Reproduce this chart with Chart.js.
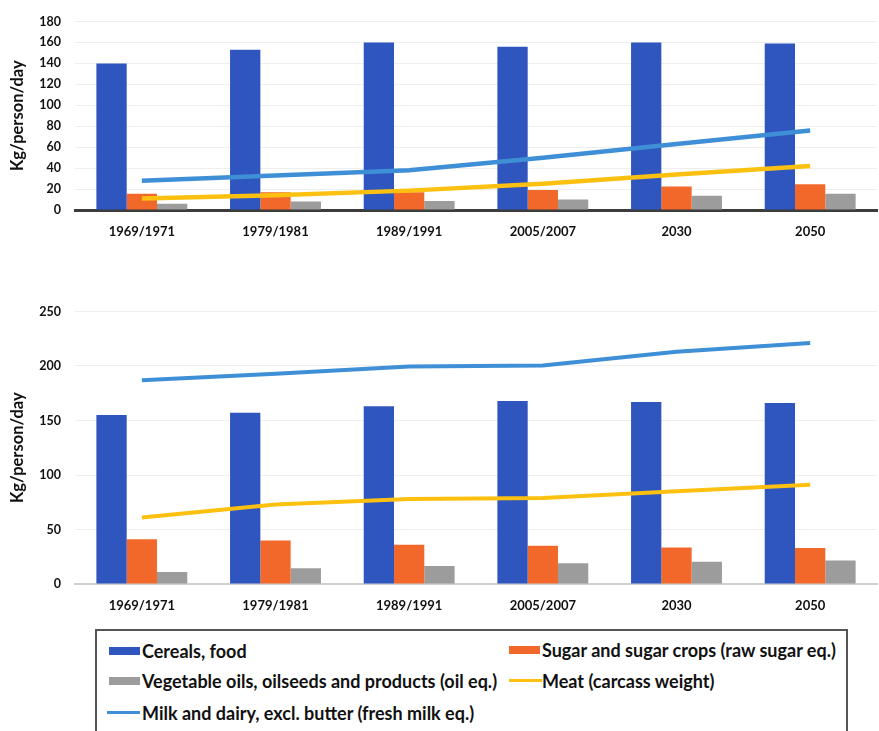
<!DOCTYPE html>
<html>
<head>
<meta charset="utf-8">
<script src="https://cdn.jsdelivr.net/npm/chart.js@4.4.1/dist/chart.umd.min.js"></script>
<style>
  body { margin:0; background:#fff; width:879px; height:731px; overflow:hidden; position:relative; font-family:Lato, "Open Sans", sans-serif; }
  #topBox { position:absolute; left:0; top:0; width:879px; height:240px; }
  #botBox { position:absolute; left:0; top:290px; width:879px; height:324px; }
  #legend { position:absolute; left:95px; top:629px; width:753px; height:110px; border:2px solid #555; border-bottom:none; box-sizing:border-box; }
  .item { position:absolute; font-weight:700; font-size:18px; color:#111; white-space:nowrap; line-height:20px; }
  .sw { position:absolute; }
</style>
</head>
<body>
<div id="topBox"><canvas id="topChart"></canvas></div>
<div id="botBox"><canvas id="botChart"></canvas></div>
<div id="legend"></div>

<script>
// categories (periods)
const categories = ['1969/1971', '1979/1981', '1989/1991', '2005/2007', '2030', '2050'];

// upper panel, kg/person
const topCereals  = [140, 153, 160, 156, 160, 159];
const topSugar    = [15.5, 17, 17, 19, 22.5, 24.5];
const topVegOils  = [6, 8, 8.5, 10, 13.5, 15.5];
const topMeat     = [11, 14, 18.5, 25, 34, 42];
const topMilk     = [28, 33, 38, 50, 63, 76];
const topYMax = 180, topYStep = 20;

// lower panel, kg/person
const botCereals  = [155, 157, 163, 168, 167, 166];
const botSugar    = [41, 40, 36, 35, 33.5, 33];
const botVegOils  = [11, 14.5, 16.5, 19, 20.5, 21.5];
const botMeat     = [61, 73, 78, 79, 85, 91];
const botMilk     = [187, 193, 199.5, 200.5, 213, 221];
const botYMax = 250, botYStep = 50;

const seriesNames = {
  cereals: 'Cereals, food',
  sugar: 'Sugar and sugar crops (raw sugar eq.)',
  oils: 'Vegetable oils, oilseeds and products (oil eq.)',
  meat: 'Meat (carcass weight)',
  milk: 'Milk and dairy, excl. butter (fresh milk eq.)'
};

const colors = {
  cereals: '#2f55bf',
  sugar: '#f1682a',
  oils: '#9c9c9c',
  meat: '#fcc010',
  milk: '#3f8fd6'
};

function makeChart(id, d, yMax, yStep, axisColor, axisWidth, lineW, padTop) {
  const ctx = document.getElementById(id);
  return new Chart(ctx, {
    type: 'bar',
    data: {
      labels: categories,
      datasets: [
        // lines listed first so they are drawn on top of the bars
        { type:'line', label: seriesNames.milk, data: d.milk, borderColor: colors.milk, borderWidth: lineW, pointRadius: 0, tension: 0 },
        { type:'line', label: seriesNames.meat, data: d.meat, borderColor: colors.meat, borderWidth: lineW, pointRadius: 0, tension: 0 },
        { label: seriesNames.cereals, data: d.cereals, backgroundColor: colors.cereals },
        { label: seriesNames.sugar, data: d.sugar, backgroundColor: colors.sugar },
        { label: seriesNames.oils, data: d.oils, backgroundColor: colors.oils }
      ]
    },
    options: {
      responsive: true,
      maintainAspectRatio: false,
      animation: false,
      datasets: { bar: { barPercentage: 1, categoryPercentage: 0.68 } },
      layout: { padding: { top: padTop, right: 2, left: 0, bottom: 0 } },
      plugins: { legend: { display: false }, tooltip: { enabled: false } },
      scales: {
        x: {
          grid: { display: false },
          border: { color: axisColor, width: axisWidth },
          ticks: { color: '#111', padding: 6, font: { family: 'Lato', weight: 'bold', size: 13 } },
          afterFit: s => { s.height = 30; }
        },
        y: {
          min: 0, max: yMax,
          grid: { color: '#eeeeee', drawTicks: false },
          border: { display: false },
          ticks: { stepSize: yStep, color: '#111', padding: 14, font: { family: 'Lato', weight: 'bold', size: 12.5 } },
          title: { display: true, text: 'Kg/person/day', color: '#111', padding: { top: 8, bottom: 0 }, font: { family: 'Lato', weight: 'bold', size: 16.5 } },
          afterFit: s => { s.width = 75; }
        }
      }
    }
  });
}

makeChart('topChart', { cereals: topCereals, sugar: topSugar, oils: topVegOils, meat: topMeat, milk: topMilk }, topYMax, topYStep, '#3c3c3c', 3, 4.5, 16);
makeChart('botChart', { cereals: botCereals, sugar: botSugar, oils: botVegOils, meat: botMeat, milk: botMilk }, botYMax, botYStep, '#cfcfcf', 2, 4, 18);

// legend box (html, same series as the charts)
const legendItems = [
  { key: 'cereals', kind: 'box',  x: 12,  y: 18 },
  { key: 'sugar',   kind: 'box',  x: 412, y: 17 },
  { key: 'oils',    kind: 'box',  x: 12,  y: 48 },
  { key: 'meat',    kind: 'line', x: 412, y: 48 },
  { key: 'milk',    kind: 'line', x: 10,  y: 80 }
];
const leg = document.getElementById('legend');
legendItems.forEach(it => {
  const sw = document.createElement('div');
  sw.className = 'sw';
  if (it.kind === 'box') {
    sw.style.cssText = `left:${it.x}px;top:${it.y - 2}px;width:31px;height:8px;background:${colors[it.key]}`;
  } else {
    sw.style.cssText = `left:${it.x}px;top:${it.y}px;width:33px;height:3px;background:${colors[it.key]}`;
  }
  leg.appendChild(sw);
  const t = document.createElement('div');
  t.className = 'item';
  t.style.left = (it.key === 'sugar' || it.key === 'meat' ? 445 : 45) + 'px';
  t.style.top = (it.y - 8) + 'px';
  t.textContent = seriesNames[it.key];
  leg.appendChild(t);
});
</script>
</body>
</html>
